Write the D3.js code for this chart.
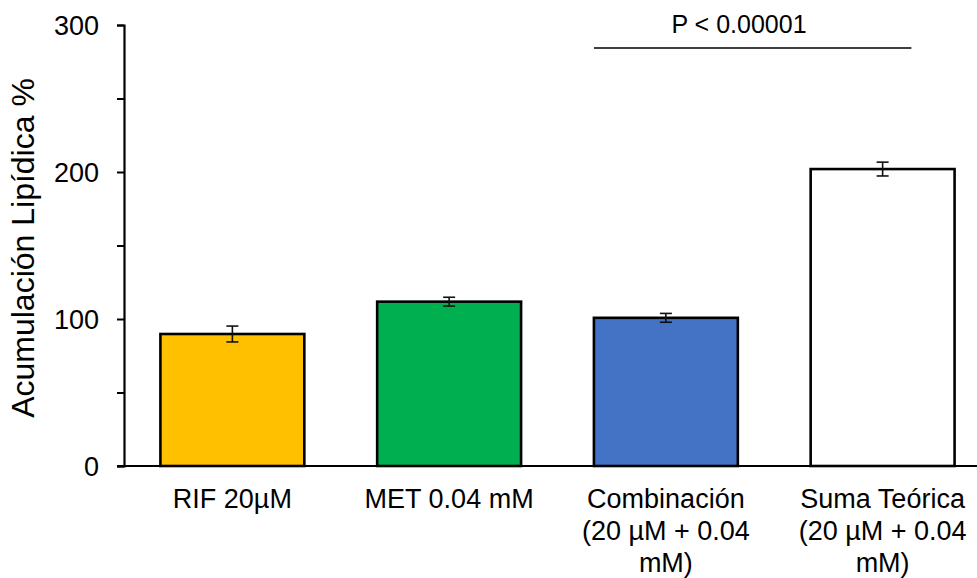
<!DOCTYPE html>
<html>
<head>
<meta charset="utf-8">
<script src="https://cdn.jsdelivr.net/npm/d3@7"></script>
<style>
  body { margin: 0; background: #fff; }
  text { font-family: "Liberation Sans", Arial, sans-serif; fill: #000; }
</style>
</head>
<body>
<svg width="977" height="578"></svg>
<script>
// data
const categories = ["RIF 20µM", "MET 0.04 mM", "Combinación (20 µM + 0.04 mM)", "Suma Teórica (20 µM + 0.04 mM)"];
const labelLines = [["RIF 20µM"], ["MET 0.04 mM"], ["Combinación", "(20 µM + 0.04", "mM)"], ["Suma Teórica", "(20 µM + 0.04", "mM)"]];
const values = [89.8, 111.8, 100.8, 202];
const errors = [5.4, 3, 3, 4.7];
const yTicks = [0, 100, 200, 300];
const pLabel = "P < 0.00001";
const pFrom = categories[2], pTo = categories[3];

const fills = ["#FFC000", "#00B050", "#4472C4", "#FFFFFF"];

const svg = d3.select("svg");
const width = +svg.attr("width");

const x = d3.scaleBand()
    .domain(categories)
    .range([124, 991])
    .paddingInner(0.336)
    .paddingOuter(0.168);

const y = d3.scaleLinear()
    .domain([0, 300])
    .range([466, 25]);

// bars
svg.append("g")
    .selectAll("rect")
    .data(values)
    .enter().append("rect")
    .attr("x", (d, i) => x(categories[i]))
    .attr("y", d => y(d))
    .attr("width", x.bandwidth())
    .attr("height", d => y(0) - y(d))
    .attr("fill", (d, i) => fills[i])
    .attr("stroke", "#000")
    .attr("stroke-width", 2.6);

// error bars
const err = svg.append("g")
    .attr("stroke", "#111")
    .attr("stroke-width", 1.6)
    .selectAll("g")
    .data(values)
    .enter().append("g")
    .attr("transform", (d, i) => `translate(${x(categories[i]) + x.bandwidth() / 2},0)`);

err.append("line")
    .attr("y1", (d, i) => y(d + errors[i]))
    .attr("y2", (d, i) => y(d - errors[i]));
err.append("line")
    .attr("x1", -6).attr("x2", 6)
    .attr("y1", (d, i) => y(d + errors[i]))
    .attr("y2", (d, i) => y(d + errors[i]));
err.append("line")
    .attr("x1", -6).attr("x2", 6)
    .attr("y1", (d, i) => y(d - errors[i]))
    .attr("y2", (d, i) => y(d - errors[i]));

// y axis
const yAxis = svg.append("g")
    .attr("transform", "translate(124,0)")
    .call(d3.axisLeft(y)
        .tickValues(d3.range(0, 301, 50))
        .tickSize(7)
        .tickPadding(18)
        .tickFormat(d => yTicks.includes(d) ? d : ""));
yAxis.select(".domain").attr("stroke", "#000").attr("stroke-width", 2.2);
yAxis.selectAll(".tick line").attr("stroke", "#000").attr("stroke-width", 2);
yAxis.selectAll(".tick text")
    .style("font-size", "27px")
    .attr("dy", "0.36em");

// x axis line
svg.append("line")
    .attr("x1", 117).attr("x2", width)
    .attr("y1", y(0)).attr("y2", y(0))
    .attr("stroke", "#000")
    .attr("stroke-width", 2.2);

// x labels
const xl = svg.append("g")
    .selectAll("text")
    .data(labelLines)
    .enter().append("text")
    .attr("text-anchor", "middle")
    .style("font-size", "27px")
    .attr("x", (d, i) => x(categories[i]) + x.bandwidth() / 2)
    .attr("y", 508);
xl.selectAll("tspan")
    .data(d => d)
    .enter().append("tspan")
    .attr("x", function () { return this.parentNode.getAttribute("x"); })
    .attr("dy", (d, i) => i === 0 ? 0 : 32)
    .text(d => d);

// y label
svg.append("text")
    .attr("transform", "translate(34,248) rotate(-90)")
    .attr("text-anchor", "middle")
    .style("font-size", "32px")
    .text("Acumulación Lipídica %");

// significance bracket
svg.append("line")
    .attr("x1", x(pFrom))
    .attr("x2", x(pTo) + x.bandwidth() * 0.7)
    .attr("y1", 48).attr("y2", 48)
    .attr("stroke", "#000")
    .attr("stroke-width", 1.6);

svg.append("text")
    .attr("x", 739)
    .attr("y", 33)
    .attr("text-anchor", "middle")
    .style("font-size", "25px")
    .text(pLabel);
</script>
</body>
</html>
